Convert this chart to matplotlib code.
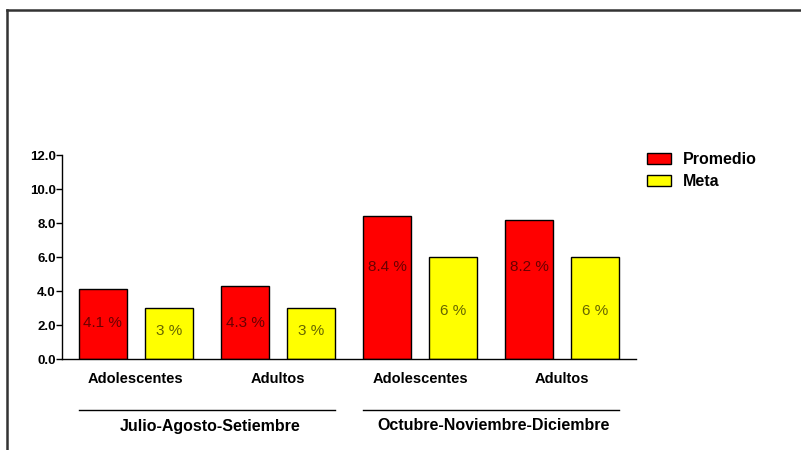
import matplotlib
matplotlib.use("Agg")
import matplotlib.pyplot as plt
from matplotlib.lines import Line2D
import numpy as np

# Data
categories = ["Adolescentes", "Adultos", "Adolescentes", "Adultos"]
periods = ["Julio-Agosto-Setiembre", "Octubre-Noviembre-Diciembre"]
promedio = [4.1, 4.3, 8.4, 8.2]
meta = [3, 3, 6, 6]
promedio_labels = ["4.1 %", "4.3 %", "8.4 %", "8.2 %"]
meta_labels = ["3 %", "3 %", "6 %", "6 %"]
yticks = [0.0, 2.0, 4.0, 6.0, 8.0, 10.0, 12.0]

# Vertical placement of the in-bar value labels
promedio_text_y = [2.1, 2.1, 5.4, 5.4]
meta_text_y = [1.65, 1.65, 2.8, 2.8]

plt.rcParams['font.family'] = ['Liberation Sans', 'DejaVu Sans']

fig = plt.figure(figsize=(8.01, 4.5), dpi=100)
fig.patch.set_facecolor("white")

# Outer frame (top and left edges)
fig.add_artist(Line2D([7/801, 7/801], [0, 1 - 10/450], transform=fig.transFigure,
                      color="#333333", lw=1.8))
fig.add_artist(Line2D([7/801, 1], [1 - 10/450, 1 - 10/450], transform=fig.transFigure,
                      color="#333333", lw=1.8))

ax = fig.add_axes([62/801, 1 - 359/450, 574/801, 204/450])

x = np.arange(len(categories))
w = 0.338
off = 0.232
ax.bar(x - off, promedio, w, color="#ff0000", edgecolor="black", lw=1.0, label="Promedio")
ax.bar(x + off, meta, w, color="#ffff00", edgecolor="black", lw=1.0, label="Meta")

for i in range(len(categories)):
    ax.text(x[i] - off, promedio_text_y[i], promedio_labels[i], ha="center", va="center",
            fontsize=11, color="#6a0000")
    ax.text(x[i] + off, meta_text_y[i], meta_labels[i], ha="center", va="center",
            fontsize=11, color="#666600")

ax.set_xlim(-0.52, 3.52)
ax.set_ylim(0, 12)
ax.set_yticks(yticks)
ax.set_yticklabels([f"{v:.1f}" for v in yticks], fontsize=9.5, fontweight="bold")
ax.tick_params(axis="y", direction="out", length=4, width=1, pad=0.5)
ax.set_xticks(x)
ax.set_xticklabels(categories, fontsize=10.5, fontweight="bold")
ax.tick_params(axis="x", length=0, pad=9.5)
for s in ["top", "right"]:
    ax.spines[s].set_visible(False)
ax.spines["left"].set_linewidth(1)
ax.spines["bottom"].set_linewidth(1)

# Period group lines and labels beneath the category labels
trans = ax.get_xaxis_transform()
groups = [(0, 1), (2, 3)]
for (a, b), name in zip(groups, periods):
    xa = a - off - w / 2
    xb = b + off + w / 2
    ax.add_line(Line2D([xa, xb], [-51/204, -51/204], transform=trans,
                       color="black", lw=1, clip_on=False))
    ax.text((a + b) / 2 + 0.02, -67/204, name, transform=trans, ha="center", va="center",
            fontsize=11.5, fontweight="bold")

leg = fig.legend(loc="upper left", bbox_to_anchor=(639/801, 1 - 144/450), frameon=False,
                 borderpad=0, prop={"size": 11.5, "weight": "bold"}, handlelength=1.5,
                 handleheight=0.65, handletextpad=0.75, labelspacing=0.45)

fig.savefig("out.png", dpi=100, facecolor="white")
